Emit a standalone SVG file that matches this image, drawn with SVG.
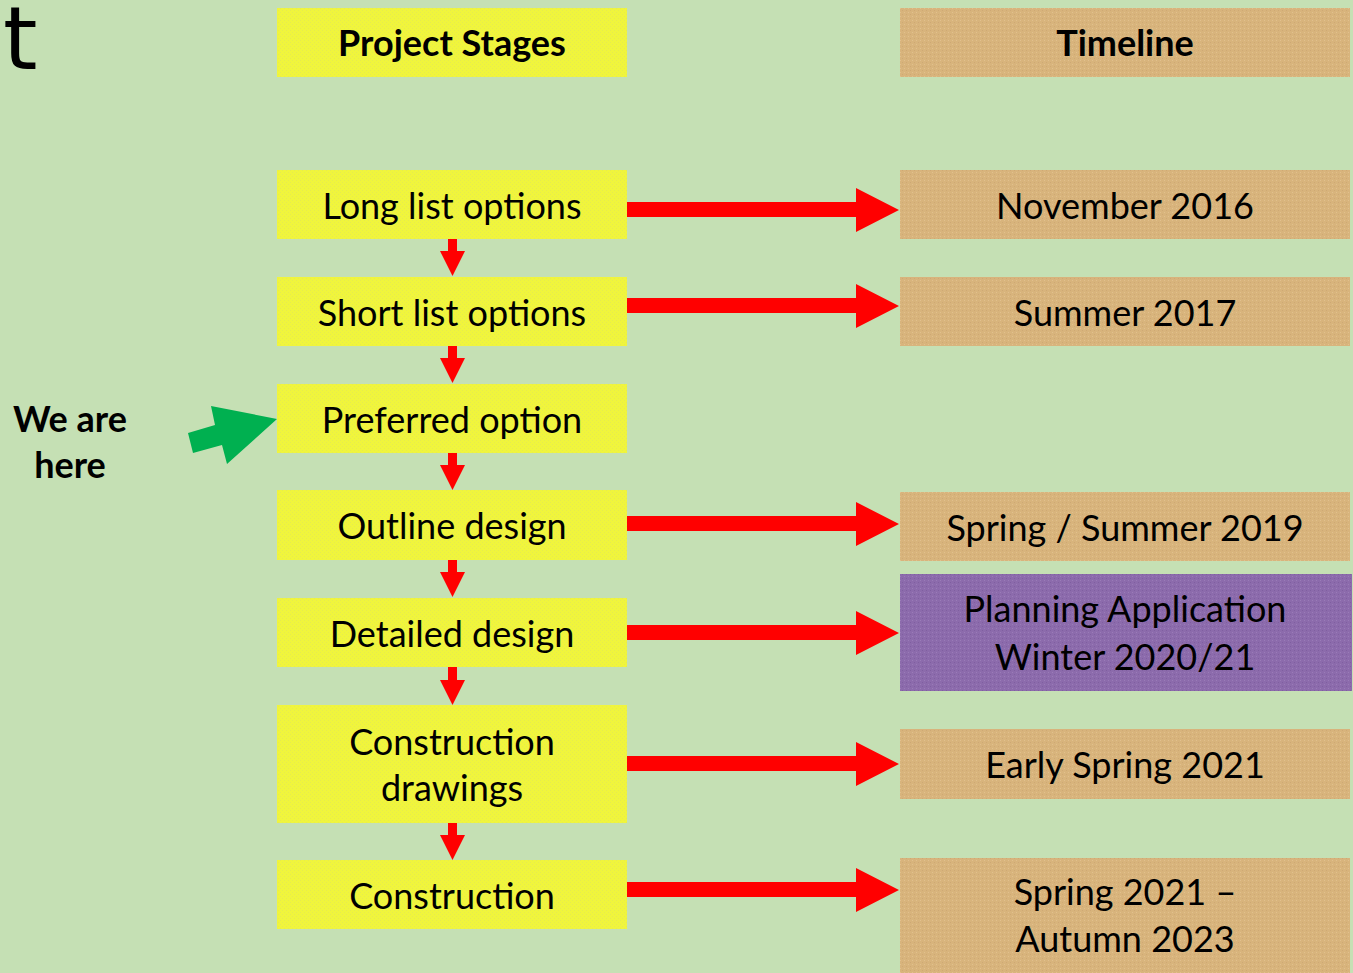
<svg xmlns="http://www.w3.org/2000/svg" width="1353" height="973" viewBox="0 0 1353 973">
<defs>
<style>
.txt{font-family:Lato,"Liberation Sans",sans-serif;font-size:36px;fill:#000;text-anchor:middle}
.bold{font-weight:bold}
.red{fill:#FF0000}
</style>
<pattern id="py" width="4" height="4" patternUnits="userSpaceOnUse">
<rect width="4" height="4" fill="#F0F53C"/>
<rect x="0" y="0" width="1" height="1" fill="#E6EA50"/>
<rect x="2" y="2" width="1" height="1" fill="#E6EA50"/>
</pattern>
<pattern id="pt" width="4" height="4" patternUnits="userSpaceOnUse">
<rect width="4" height="4" fill="#D8B47C"/>
<rect x="0" y="0" width="1" height="1" fill="#E2C08E"/>
<rect x="2" y="2" width="1" height="1" fill="#CFA874"/>
</pattern>
<pattern id="pp" width="4" height="4" patternUnits="userSpaceOnUse">
<rect width="4" height="4" fill="#8C6BAC"/>
<rect x="0" y="0" width="1" height="1" fill="#9A7CB8"/>
<rect x="2" y="2" width="1" height="1" fill="#7F5FA0"/>
</pattern>
</defs>
<rect width="1353" height="973" fill="#C5E0B4"/>
<text x="3" y="69" font-family="DejaVu Sans,sans-serif" font-size="88" fill="#000">t</text>

<g id="hdr-stages"><rect x="277" y="8" width="350" height="69" fill="url(#py)"/><text class="txt bold" x="452" y="56">Project Stages</text></g>
<g id="hdr-timeline"><rect x="900" y="8" width="450" height="69" fill="url(#pt)"/><text class="txt bold" x="1125" y="56">Timeline</text></g>

<g id="s1"><rect x="277" y="170" width="350" height="69" fill="url(#py)"/><text class="txt" x="452" y="219">Long list options</text></g>
<g id="s2"><rect x="277" y="277" width="350" height="69" fill="url(#py)"/><text class="txt" x="452" y="326">Short list options</text></g>
<g id="s3"><rect x="277" y="384" width="350" height="69" fill="url(#py)"/><text class="txt" x="452" y="433">Preferred option</text></g>
<g id="s4"><rect x="277" y="490" width="350" height="70" fill="url(#py)"/><text class="txt" x="452" y="539">Outline design</text></g>
<g id="s5"><rect x="277" y="598" width="350" height="69" fill="url(#py)"/><text class="txt" x="452" y="647">Detailed design</text></g>
<g id="s6"><rect x="277" y="705" width="350" height="118" fill="url(#py)"/><text class="txt" x="452" y="755">Construction</text><text class="txt" x="452" y="801">drawings</text></g>
<g id="s7"><rect x="277" y="860" width="350" height="69" fill="url(#py)"/><text class="txt" x="452" y="909">Construction</text></g>

<g id="t1"><rect x="900" y="170" width="450" height="69" fill="url(#pt)"/><text class="txt" x="1125" y="219">November 2016</text></g>
<g id="t2"><rect x="900" y="277" width="450" height="69" fill="url(#pt)"/><text class="txt" x="1125" y="326">Summer 2017</text></g>
<g id="t4"><rect x="900" y="492" width="450" height="69" fill="url(#pt)"/><text class="txt" x="1125" y="541">Spring / Summer 2019</text></g>
<g id="t5"><rect x="900" y="574" width="452" height="117" fill="url(#pp)"/><text class="txt" x="1125" y="622">Planning Application</text><text class="txt" x="1125" y="670">Winter 2020/21</text></g>
<g id="t6"><rect x="900" y="729" width="450" height="70" fill="url(#pt)"/><text class="txt" x="1125" y="778">Early Spring 2021</text></g>
<g id="t7"><rect x="900" y="858" width="450" height="115" fill="url(#pt)"/><text class="txt" x="1125" y="905">Spring 2021 –</text><text class="txt" x="1125" y="952">Autumn 2023</text></g>

<g id="here"><text class="txt bold" x="70" y="432">We are</text><text class="txt bold" x="70" y="478">here</text>
<polygon points="188,433 215,425 211,406 277,419 227,464 222,445 193,453" fill="#00B050"/></g>

<g id="connectors">
<polygon class="red" points="627,202 856,202 856,188 899,210 856,232 856,217 627,217"/>
<polygon class="red" points="627,298 856,298 856,284 899,306 856,328 856,313 627,313"/>
<polygon class="red" points="627,516 856,516 856,502 899,524 856,546 856,531 627,531"/>
<polygon class="red" points="627,625 856,625 856,611 899,633 856,655 856,640 627,640"/>
<polygon class="red" points="627,756 856,756 856,742 899,764 856,786 856,771 627,771"/>
<polygon class="red" points="627,882 856,882 856,868 899,890 856,912 856,897 627,897"/>
<polygon class="red" points="448,239 457,239 457,251 465,251 452.5,276 440,251 448,251"/>
<polygon class="red" points="448,346 457,346 457,358 465,358 452.5,383 440,358 448,358"/>
<polygon class="red" points="448,453 457,453 457,465 465,465 452.5,490 440,465 448,465"/>
<polygon class="red" points="448,560 457,560 457,572 465,572 452.5,597 440,572 448,572"/>
<polygon class="red" points="448,667 457,667 457,680 465,680 452.5,705 440,680 448,680"/>
<polygon class="red" points="448,823 457,823 457,835 465,835 452.5,860 440,835 448,835"/>
</g>
</svg>
